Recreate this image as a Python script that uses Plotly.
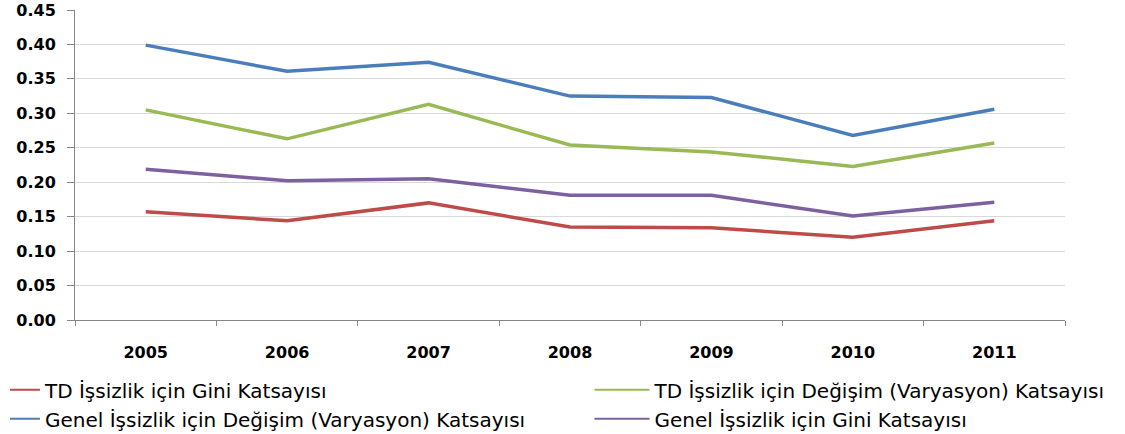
import plotly.graph_objects as go

years = ["2005", "2006", "2007", "2008", "2009", "2010", "2011"]
td_gini = [0.157, 0.144, 0.170, 0.135, 0.134, 0.120, 0.144]
td_degisim = [0.305, 0.263, 0.313, 0.254, 0.244, 0.223, 0.257]
genel_degisim = [0.399, 0.361, 0.374, 0.325, 0.323, 0.268, 0.306]
genel_gini = [0.219, 0.202, 0.205, 0.181, 0.181, 0.151, 0.171]

names = [
    "TD İşsizlik için Gini Katsayısı",
    "TD İşsizlik için Değişim (Varyasyon) Katsayısı",
    "Genel İşsizlik için Değişim (Varyasyon) Katsayısı",
    "Genel İşsizlik için Gini Katsayısı",
]
series = [td_gini, td_degisim, genel_degisim, genel_gini]
colors = ["#be4b48", "#98b954", "#4a7ebb", "#7d60a0"]
legends = ["legend", "legend2", "legend", "legend2"]

font = "DejaVu Sans, Verdana, sans-serif"

fig = go.Figure()
for n, s, c, lg in zip(names, series, colors, legends):
    fig.add_trace(go.Scatter(x=years, y=s, name=n, mode="lines",
                             showlegend=False, legendgroup=n,
                             line=dict(color=c, width=3.5)))
# legend entries (thinner key lines, as in the original)
for n, c, lg in zip(names, colors, legends):
    fig.add_trace(go.Scatter(x=[None], y=[None], name=n, mode="lines",
                             legend=lg, legendgroup=n,
                             line=dict(color=c, width=2)))

legend_common = dict(orientation="v", xref="container", yref="container",
                     yanchor="top", xanchor="left", tracegroupgap=0,
                     bgcolor="rgba(0,0,0,0)",
                     font=dict(family=font, size=20, color="black"))

fig.update_layout(
    width=1125, height=434,
    margin=dict(l=75, r=60, t=10, b=114, autoexpand=False),
    paper_bgcolor="white", plot_bgcolor="white",
    font=dict(family=font, size=16, color="black"),
    showlegend=True,
    legend=dict(**legend_common, x=0.0044, y=0.147, itemwidth=30),
    legend2=dict(**legend_common, x=0.524, y=0.147, itemwidth=55),
)
fig.update_xaxes(type="category", range=[-0.5, 6.5], tickson="boundaries",
                 ticks="outside", ticklen=5, tickcolor="#868686",
                 showline=True, linecolor="#868686", linewidth=1, showgrid=False,
                 tickfont=dict(family=font, size=16, color="black", weight="bold"),
                 ticklabelstandoff=18, tickangle=0)
fig.update_yaxes(range=[0, 0.45001], tickvals=[0, 0.05, 0.1, 0.15, 0.2, 0.25, 0.3, 0.35, 0.4, 0.45],
                 tickformat=".2f", ticklabeloverflow="allow",
                 ticks="outside", ticklen=7, tickcolor="#868686",
                 showline=True, linecolor="#868686", linewidth=1,
                 showgrid=True, gridcolor="#d9d9d9", gridwidth=1,
                 zeroline=False,
                 tickfont=dict(family=font, size=16, color="black", weight="bold"),
                 ticklabelstandoff=8)

fig.write_html("out.html", config={"displayModeBar": False},
               post_script="document.body.style.margin='0';document.body.style.padding='0';")
